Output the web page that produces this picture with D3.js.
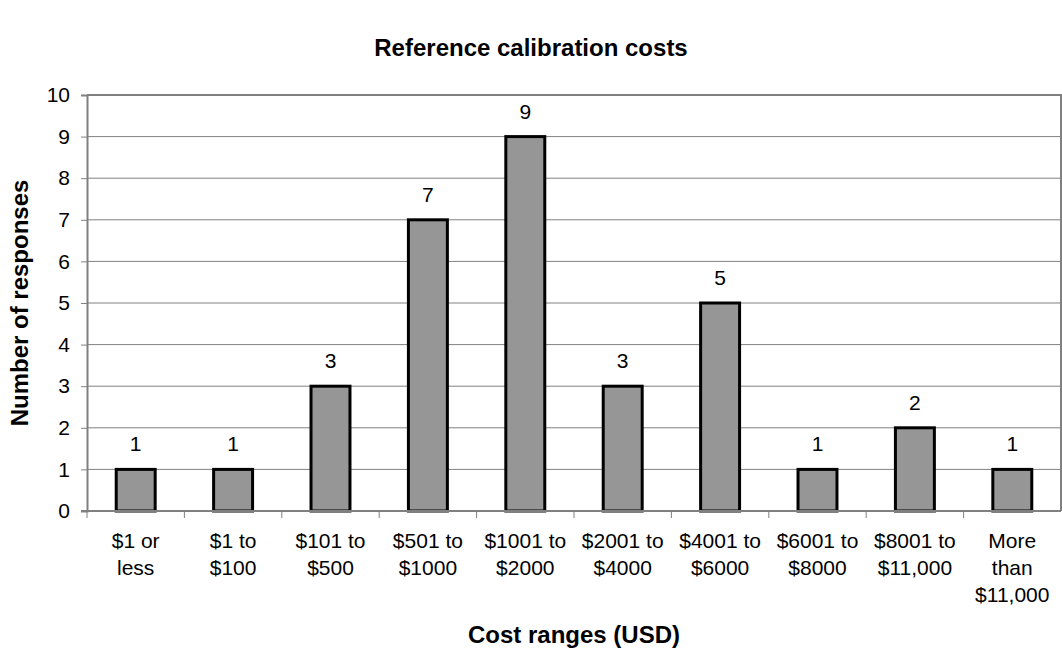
<!DOCTYPE html>
<html>
<head>
<meta charset="utf-8">
<script src="https://cdn.jsdelivr.net/npm/d3@7"></script>
<style>
  body { margin: 0; background: #fff; }
  text { font-family: 'Liberation Sans', Arial, sans-serif; }
</style>
</head>
<body>
<div id="chart"></div>
<script>
// cost ranges and how many responses fell in each
const categories = [
  ['$1 or', 'less'],
  ['$1 to', '$100'],
  ['$101 to', '$500'],
  ['$501 to', '$1000'],
  ['$1001 to', '$2000'],
  ['$2001 to', '$4000'],
  ['$4001 to', '$6000'],
  ['$6001 to', '$8000'],
  ['$8001 to', '$11,000'],
  ['More', 'than', '$11,000']
]
const responses = [1, 1, 3, 7, 9, 3, 5, 1, 2, 1]
const yTicks = [0, 1, 2, 3, 4, 5, 6, 7, 8, 9, 10]

const margin = { top: 95, right: 1, bottom: 142, left: 87 }
const width = 1062 - margin.left - margin.right
const height = 653 - margin.top - margin.bottom

const svg = d3
  .select('#chart')
  .append('svg')
  .attr('width', 1062)
  .attr('height', 653)

const g = svg
  .append('g')
  .attr('transform', 'translate(' + margin.left + ',' + margin.top + ')')

const xPositionScale = d3
  .scaleBand()
  .domain(d3.range(categories.length))
  .range([0, width])

const yPositionScale = d3
  .scaleLinear()
  .domain([0, 10])
  .range([height, 0])

// gridlines
g.selectAll('.grid')
  .data(yTicks.slice(1, -1))
  .enter()
  .append('line')
  .attr('class', 'grid')
  .attr('x1', 0)
  .attr('x2', width)
  .attr('y1', d => yPositionScale(d))
  .attr('y2', d => yPositionScale(d))
  .attr('stroke', '#808080')
  .attr('stroke-width', 1)

// top and right border
g.append('path')
  .attr('d', 'M0,' + yPositionScale(10) + 'H' + width + 'V' + height)
  .attr('fill', 'none')
  .attr('stroke', '#808080')
  .attr('stroke-width', 2)

// bars
const barWidth = xPositionScale.bandwidth() * 0.4
g.selectAll('.bar')
  .data(responses)
  .enter()
  .append('rect')
  .attr('class', 'bar')
  .attr('x', (d, i) => xPositionScale(i) + (xPositionScale.bandwidth() - barWidth) / 2)
  .attr('y', d => yPositionScale(d))
  .attr('width', barWidth)
  .attr('height', d => height - yPositionScale(d))
  .attr('fill', '#969696')
  .attr('stroke', '#000')
  .attr('stroke-width', 3)

// value labels
g.selectAll('.value')
  .data(responses)
  .enter()
  .append('text')
  .attr('class', 'value')
  .attr('x', (d, i) => xPositionScale(i) + xPositionScale.bandwidth() / 2)
  .attr('y', d => yPositionScale(d) - 18)
  .attr('text-anchor', 'middle')
  .attr('font-size', 21)
  .attr('fill', '#000')
  .text(d => d)

// y axis
const yAxis = d3.axisLeft(yPositionScale).tickValues(yTicks).tickSize(6).tickPadding(11)
const yG = g.append('g').attr('class', 'axis y-axis').call(yAxis)
yG.select('.domain').attr('stroke', '#808080').attr('stroke-width', 2)
yG.selectAll('.tick line').attr('stroke', '#808080')
yG.selectAll('.tick text').attr('font-size', 21).attr('fill', '#000')
  .attr('font-family', "'Liberation Sans', Arial, sans-serif")

// x axis line and boundary ticks
g.append('line')
  .attr('x1', -6)
  .attr('x2', width)
  .attr('y1', height)
  .attr('y2', height)
  .attr('stroke', '#808080')
  .attr('stroke-width', 2)

g.selectAll('.xtick')
  .data(d3.range(categories.length))
  .enter()
  .append('line')
  .attr('class', 'xtick')
  .attr('x1', d => xPositionScale(d))
  .attr('x2', d => xPositionScale(d))
  .attr('y1', height)
  .attr('y2', height + 7)
  .attr('stroke', '#808080')

// x tick labels
const xLabels = g.selectAll('.xlabel')
  .data(categories)
  .enter()
  .append('text')
  .attr('class', 'xlabel')
  .attr('text-anchor', 'middle')
  .attr('font-size', 21)
  .attr('fill', '#000')

xLabels.selectAll('tspan')
  .data((d, i) => d.map(line => ({ line, i })))
  .enter()
  .append('tspan')
  .attr('x', d => xPositionScale(d.i) + xPositionScale.bandwidth() / 2)
  .attr('y', (d, j) => height + 37 + j * 27)
  .text(d => d.line)

// titles
svg.append('text')
  .attr('x', 531)
  .attr('y', 56)
  .attr('text-anchor', 'middle')
  .attr('font-size', 24)
  .attr('font-weight', 'bold')
  .text('Reference calibration costs')

svg.append('text')
  .attr('x', margin.left + width / 2)
  .attr('y', 643)
  .attr('text-anchor', 'middle')
  .attr('font-size', 24)
  .attr('font-weight', 'bold')
  .text('Cost ranges (USD)')

svg.append('text')
  .attr('transform', 'translate(28,' + (margin.top + height / 2) + ') rotate(-90)')
  .attr('text-anchor', 'middle')
  .attr('font-size', 24)
  .attr('font-weight', 'bold')
  .text('Number of responses')
</script>
</body>
</html>
